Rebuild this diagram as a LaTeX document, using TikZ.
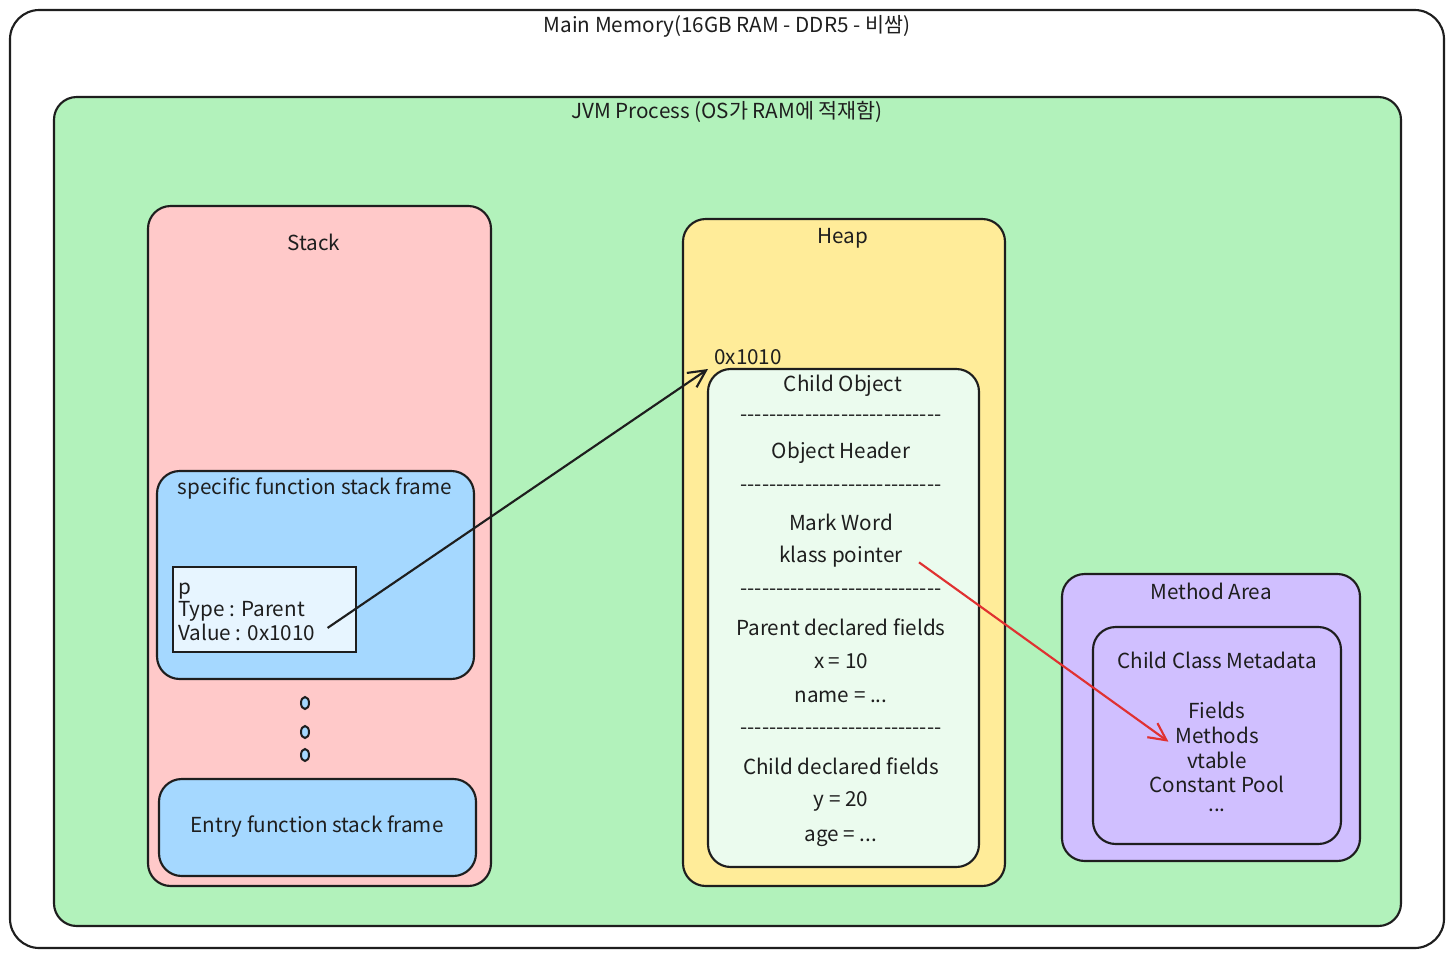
\documentclass[tikz,border=0pt]{standalone}
\usepackage{fontspec}
\setmainfont{Noto Sans CJK KR}[Ligatures=TeXOff]
\usetikzlibrary{arrows.meta}

\definecolor{ink}{HTML}{1E1E1E}
\definecolor{jvmgreen}{HTML}{B2F2BB}
\definecolor{stackred}{HTML}{FFC9C9}
\definecolor{frameblue}{HTML}{A5D8FF}
\definecolor{varblue}{HTML}{E7F5FF}
\definecolor{heapyellow}{HTML}{FFEC99}
\definecolor{objgreen}{HTML}{EBFBEE}
\definecolor{methodpurple}{HTML}{D0BFFF}
\definecolor{klassred}{HTML}{E03131}

\tikzset{
  area/.style={draw=ink, line width=1.6pt, rounded corners=17pt},
  lbl/.style={text=ink, font=\fontsize{15.5}{18}\selectfont, inner sep=0pt},
  ptr/.style={-{Straight Barb[length=13pt,width=13pt]}, line width=1.6pt},
}

\begin{document}
\begin{tikzpicture}[x=0.75pt,y=-0.75pt]
  \useasboundingbox (0,0) rectangle (1454,958);
  % main memory and jvm process
  \draw[area, fill=white, rounded corners=22pt] (10,10) rectangle (1444,948);
  \node[lbl] (mainlbl) at (727,26) {Main Memory(16GB RAM - DDR5 - 비쌈)};
  \draw[area, fill=jvmgreen] (54,97) rectangle (1401,926);
  \node[lbl] (jvmlbl) at (727,112) {JVM Process (OS가 RAM에 적재함)};

  % stack
  \draw[area, fill=stackred] (148,206) rectangle (491,886);
  \node[lbl] (stacklbl) at (314,242) {Stack};
  \draw[area, fill=frameblue] (157,471) rectangle (474,679);
  \node[lbl] (framelbl) at (315,488) {specific function stack frame};
  \draw[line width=1.6pt, draw=ink, fill=varblue] (173,567) rectangle (356,652);
  \node[lbl, anchor=base west] (pname) at (178,594) {p};
  \node[lbl, anchor=base west] (ptype) at (178,616) {Type : Parent};
  \node[lbl, anchor=base west] (pvalue) at (178,640) {Value : 0x1010};
  \foreach \y in {703,732,755}
    \draw[line width=1.5pt, draw=ink, fill=frameblue] (305,\y) ellipse [x radius=4, y radius=6];
  \draw[area, fill=frameblue] (159,779) rectangle (476,876);
  \node[lbl] (entrylbl) at (317,827) {Entry function stack frame};

  % heap
  \draw[area, fill=heapyellow] (683,219) rectangle (1005,886);
  \node[lbl] (heaplbl) at (843,238) {Heap};
  \node[lbl, anchor=west] (addr) at (714,357) {0x1010};
  \draw[area, fill=objgreen] (708,369) rectangle (979,867);
  \coordinate (objnw) at (708,369);
  \node[lbl] (objlbl) at (843,386) {Child Object};
  \node[lbl] (sep1) at (841,418) {----------------------------};
  \node[lbl] (header) at (841,453) {Object Header};
  \node[lbl] (sep2) at (841,488) {----------------------------};
  \node[lbl] (mark) at (841,522) {Mark Word};
  \node[lbl] (klass) at (841,557) {klass pointer};
  \node[lbl] (sep3) at (841,592) {----------------------------};
  \node[lbl] (parentf) at (841,627) {Parent declared fields};
  \node[lbl] (fx) at (841,661) {x = 10};
  \node[lbl] (fname) at (841,697) {name = ...};
  \node[lbl] (sep4) at (841,731) {----------------------------};
  \node[lbl] (childf) at (841,766) {Child declared fields};
  \node[lbl] (fy) at (841,801) {y = 20};
  \node[lbl] (fage) at (841,838) {age = ...};

  % method area
  \draw[area, fill=methodpurple] (1062,574) rectangle (1360,861);
  \node[lbl] (methodlbl) at (1211,591) {Method Area};
  \draw[area, fill=methodpurple] (1093,627) rectangle (1341,844);
  \node[lbl] (metalbl) at (1217,660) {Child Class Metadata};
  \node[lbl] (mfields) at (1217,710) {Fields};
  \node[lbl] (methods) at (1217,735) {Methods};
  \node[lbl] (vtable) at (1217,760) {vtable};
  \node[lbl] (cpool) at (1217,784) {Constant Pool};
  \node[lbl] (mdots) at (1217,810) {...};

  % pointers
  \draw[ptr, draw=ink] ([xshift=9pt,yshift=3pt]pvalue.east) -- (objnw);
  \draw[ptr, draw=klassred] ([xshift=12pt,yshift=-4pt]klass.east) -- ([xshift=-5pt,yshift=-5pt]methods.west);
\end{tikzpicture}
\end{document}
